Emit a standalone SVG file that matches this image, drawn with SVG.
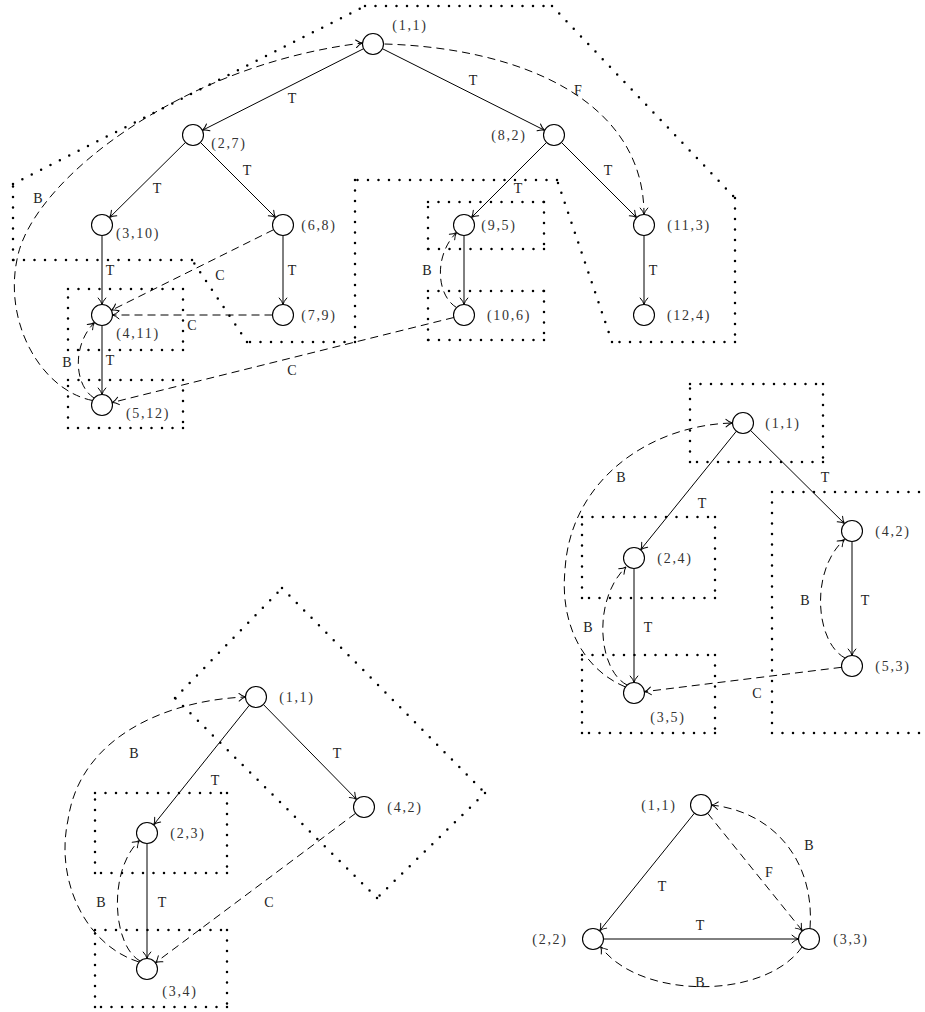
<svg xmlns="http://www.w3.org/2000/svg" width="925" height="1012" viewBox="0 0 925 1012">
<style>
.n{fill:#fff;stroke:#000;stroke-width:1.1}
.nl{font-family:"Liberation Serif","Times New Roman",serif;font-size:14px;letter-spacing:1.7px;fill:#333;text-anchor:middle}
.el{font-family:"Liberation Serif","Times New Roman",serif;font-size:14px;fill:#222;text-anchor:middle}
.t{fill:none;stroke:#000;stroke-width:1;marker-end:url(#ah)}
.d{fill:none;stroke:#000;stroke-width:1;stroke-dasharray:8 5;marker-end:url(#ah)}
.r{fill:none;stroke:#000;stroke-width:2.5;stroke-linecap:round;stroke-dasharray:0 10.5}
</style>
<defs>
<marker id="ah" markerUnits="userSpaceOnUse" markerWidth="14" markerHeight="14" refX="0" refY="0" orient="auto" overflow="visible">
<path d="M -6.5 -3.8 Q -3 -0.6 0 0 Q -3 0.6 -6.5 3.8" fill="none" stroke="#000" stroke-width="1" stroke-linecap="round"/>
</marker>
</defs>
<rect width="925" height="1012" fill="#fff"/>

<g id="regions">
<path class="r" d="M 365 6 L 552 6 M 552 6 L 735 198 M 735 198 L 735 342 M 735 342 L 612 342 M 612 342 L 557 180 M 557 180 L 355 180 M 355 180 L 355 342 M 355 342 L 247 342 M 247 342 L 192 260 M 192 260 L 13 260 M 13 260 L 13 184 M 13 184 L 365 6"/>
<path class="r" d="M 68 289 L 183 289 M 183 289 L 183 350 M 183 350 L 68 350 M 68 350 L 68 289"/>
<path class="r" d="M 68 380 L 183 380 M 183 380 L 183 428 M 183 428 L 68 428 M 68 428 L 68 380"/>
<path class="r" d="M 428 202 L 544 202 M 544 202 L 544 249 M 544 249 L 428 249 M 428 249 L 428 202"/>
<path class="r" d="M 428 291 L 544 291 M 544 291 L 544 340 M 544 340 L 428 340 M 428 340 L 428 291"/>
<path class="r" d="M 690 384 L 823 384 M 823 384 L 823 462 M 823 462 L 690 462 M 690 462 L 690 384"/>
<path class="r" d="M 582 517 L 715 517 M 715 517 L 715 598 M 715 598 L 582 598 M 582 598 L 582 517"/>
<path class="r" d="M 582 655 L 715 655 M 715 655 L 715 733 M 715 733 L 582 733 M 582 733 L 582 655"/>
<path class="r" d="M 772 492 L 925 492 M 772 492 L 772 733 M 772 733 L 925 733"/>
<path class="r" d="M 175 698 L 282 588 M 282 588 L 485 793 M 485 793 L 377 898 M 377 898 L 175 698"/>
<path class="r" d="M 95 793 L 227 793 M 227 793 L 227 873 M 227 873 L 95 873 M 95 873 L 95 793"/>
<path class="r" d="M 95 930 L 227 930 M 227 930 L 227 1007 M 227 1007 L 95 1007 M 95 1007 L 95 930"/>
</g>

<g id="connectors">
<!-- top graph -->
<line class="t" x1="363.6" y1="48.7" x2="202.4" y2="130.3"/>
<line class="t" x1="382.4" y1="48.7" x2="544.6" y2="130.3"/>
<line class="t" x1="185.5" y1="142.4" x2="109.5" y2="217.6"/>
<line class="t" x1="200.4" y1="142.4" x2="275.6" y2="217.6"/>
<line class="t" x1="546.6" y1="142.4" x2="471.4" y2="217.6"/>
<line class="t" x1="561.4" y1="142.4" x2="636.6" y2="217.6"/>
<line class="t" x1="102" y1="235.5" x2="102" y2="304.5"/>
<line class="t" x1="283" y1="235.5" x2="283" y2="304.5"/>
<line class="t" x1="102" y1="325.5" x2="102" y2="394.5"/>
<line class="t" x1="464" y1="235.5" x2="464" y2="304.5"/>
<line class="t" x1="644" y1="235.5" x2="644" y2="304.5"/>
<line class="d" x1="273.6" y1="229.7" x2="111.4" y2="310.3"/>
<line class="d" x1="272.5" y1="315" x2="112.5" y2="315"/>
<line class="d" x1="453.8" y1="317.5" x2="112.2" y2="402.5"/>
<path class="d" d="M 384.5 44 C 520 48, 644 100, 644 214.5"/>
<path class="d" d="M 92.5 400.5 C 40 390, 2 320, 18 255 C 35 180, 180 65, 362.5 43"/>
<path class="d" d="M 94 398 C 74 385, 72 345, 94.5 322.5"/>
<path class="d" d="M 456.6 307.6 C 436 295, 434 255, 456.6 232.4"/>
<text class="el" x="292" y="103">T</text>
<text class="el" x="473" y="85">T</text>
<text class="el" x="578" y="95">F</text>
<text class="el" x="157" y="193">T</text>
<text class="el" x="247" y="175">T</text>
<text class="el" x="518" y="193">T</text>
<text class="el" x="608" y="175">T</text>
<text class="el" x="110" y="275">T</text>
<text class="el" x="292" y="275">T</text>
<text class="el" x="220" y="280">C</text>
<text class="el" x="192" y="330">C</text>
<text class="el" x="110" y="365">T</text>
<text class="el" x="67" y="367">B</text>
<text class="el" x="292" y="375">C</text>
<text class="el" x="38" y="203">B</text>
<text class="el" x="427" y="275">B</text>
<text class="el" x="653" y="275">T</text>
<!-- middle right graph -->
<line class="t" x1="736.4" y1="431.2" x2="640.6" y2="549.8"/>
<line class="t" x1="750.5" y1="430.4" x2="844.5" y2="523.6"/>
<line class="t" x1="634" y1="568.5" x2="634" y2="682.5"/>
<line class="t" x1="852" y1="541.5" x2="852" y2="655.5"/>
<line class="d" x1="841.6" y1="667.3" x2="644.4" y2="691.7"/>
<path class="d" d="M 625.5 687 C 580 668, 560 620, 565 570 C 570 480, 650 425, 732.5 423"/>
<path class="d" d="M 627 685 C 598 670, 592 600, 626 567"/>
<path class="d" d="M 845 658 C 815 642, 810 570, 844.5 539.5"/>
<text class="el" x="825" y="482">T</text>
<text class="el" x="702" y="508">T</text>
<text class="el" x="648" y="632">T</text>
<text class="el" x="865" y="605">T</text>
<text class="el" x="805" y="605">B</text>
<text class="el" x="588" y="632">B</text>
<text class="el" x="621" y="482">B</text>
<text class="el" x="757" y="698">C</text>
<!-- bottom left graph -->
<line class="t" x1="249.4" y1="705.2" x2="153.6" y2="824.8"/>
<line class="t" x1="263.4" y1="704.5" x2="356.6" y2="799.5"/>
<line class="t" x1="147" y1="843.5" x2="147" y2="958.5"/>
<line class="d" x1="355.6" y1="813.3" x2="155.4" y2="962.7"/>
<path class="d" d="M 139 962 C 85 945, 55 880, 68 820 C 80 735, 170 700, 245.5 697"/>
<path class="d" d="M 140 961 C 112 945, 108 870, 139.5 840.5"/>
<text class="el" x="337" y="758">T</text>
<text class="el" x="215" y="785">T</text>
<text class="el" x="162" y="907">T</text>
<text class="el" x="101" y="907">B</text>
<text class="el" x="134" y="758">B</text>
<text class="el" x="269" y="907">C</text>
<!-- bottom right graph -->
<line class="t" x1="694.4" y1="813.2" x2="599.6" y2="930.8"/>
<line class="t" x1="603.5" y1="939" x2="798.5" y2="939"/>
<line class="d" x1="707.6" y1="813.2" x2="802.4" y2="930.8"/>
<path class="d" d="M 810 928.5 C 815 862, 775 812, 711.5 805"/>
<path class="d" d="M 802 947 C 765 1000, 640 1000, 600.5 946.5"/>
<text class="el" x="662" y="891">T</text>
<text class="el" x="700" y="930">T</text>
<text class="el" x="769" y="877">F</text>
<text class="el" x="809" y="850">B</text>
<text class="el" x="700" y="987">B</text>
</g>

<g id="g1-n11"><circle class="n" cx="373" cy="44" r="10.5"/><text class="nl" x="410" y="30">(1,1)</text></g>
<g id="g1-n27"><circle class="n" cx="193" cy="135" r="10.5"/><text class="nl" x="229" y="148">(2,7)</text></g>
<g id="g1-n82"><circle class="n" cx="554" cy="135" r="10.5"/><text class="nl" x="509" y="140">(8,2)</text></g>
<g id="g1-n310"><circle class="n" cx="102" cy="225" r="10.5"/><text class="nl" x="138" y="238">(3,10)</text></g>
<g id="g1-n68"><circle class="n" cx="283" cy="225" r="10.5"/><text class="nl" x="319" y="230">(6,8)</text></g>
<g id="g1-n411"><circle class="n" cx="102" cy="315" r="10.5"/><text class="nl" x="138" y="338">(4,11)</text></g>
<g id="g1-n79"><circle class="n" cx="283" cy="315" r="10.5"/><text class="nl" x="319" y="320">(7,9)</text></g>
<g id="g1-n512"><circle class="n" cx="102" cy="405" r="10.5"/><text class="nl" x="148" y="418">(5,12)</text></g>
<g id="g1-n95"><circle class="n" cx="464" cy="225" r="10.5"/><text class="nl" x="499" y="230">(9,5)</text></g>
<g id="g1-n106"><circle class="n" cx="464" cy="315" r="10.5"/><text class="nl" x="509" y="320">(10,6)</text></g>
<g id="g1-n113"><circle class="n" cx="644" cy="225" r="10.5"/><text class="nl" x="689" y="230">(11,3)</text></g>
<g id="g1-n124"><circle class="n" cx="644" cy="315" r="10.5"/><text class="nl" x="689" y="320">(12,4)</text></g>

<g id="g2-n11"><circle class="n" cx="743" cy="423" r="10.5"/><text class="nl" x="783" y="428">(1,1)</text></g>
<g id="g2-n24"><circle class="n" cx="634" cy="558" r="10.5"/><text class="nl" x="675" y="563">(2,4)</text></g>
<g id="g2-n42"><circle class="n" cx="852" cy="531" r="10.5"/><text class="nl" x="893" y="536">(4,2)</text></g>
<g id="g2-n53"><circle class="n" cx="852" cy="666" r="10.5"/><text class="nl" x="893" y="671">(5,3)</text></g>
<g id="g2-n35"><circle class="n" cx="634" cy="693" r="10.5"/><text class="nl" x="668" y="722">(3,5)</text></g>

<g id="g3-n11"><circle class="n" cx="256" cy="697" r="10.5"/><text class="nl" x="297" y="702">(1,1)</text></g>
<g id="g3-n23"><circle class="n" cx="147" cy="833" r="10.5"/><text class="nl" x="188" y="838">(2,3)</text></g>
<g id="g3-n42"><circle class="n" cx="364" cy="807" r="10.5"/><text class="nl" x="405" y="812">(4,2)</text></g>
<g id="g3-n34"><circle class="n" cx="147" cy="969" r="10.5"/><text class="nl" x="180" y="996">(3,4)</text></g>

<g id="g4-n11"><circle class="n" cx="701" cy="805" r="10.5"/><text class="nl" x="659" y="810">(1,1)</text></g>
<g id="g4-n22"><circle class="n" cx="593" cy="939" r="10.5"/><text class="nl" x="550" y="944">(2,2)</text></g>
<g id="g4-n33"><circle class="n" cx="809" cy="939" r="10.5"/><text class="nl" x="851" y="944">(3,3)</text></g>
</svg>
